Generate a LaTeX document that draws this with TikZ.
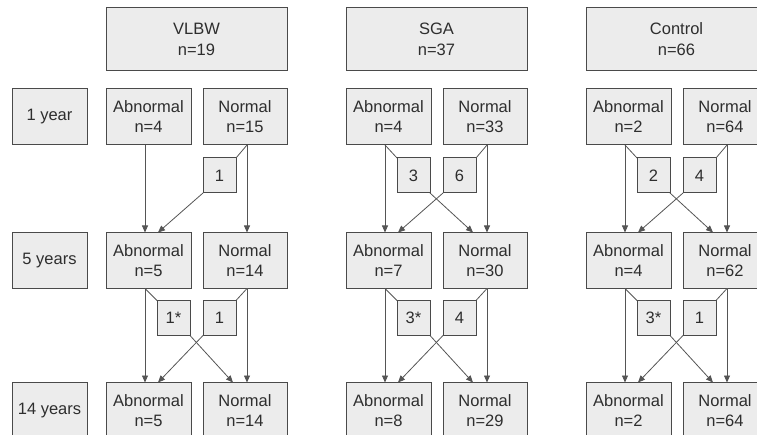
\documentclass[tikz,border=0pt]{standalone}
\usepackage{fontspec}
\setmainfont{Liberation Sans}
\usetikzlibrary{arrows.meta}
\definecolor{boxfill}{HTML}{ECECEC}
\definecolor{boxline}{HTML}{4A4A4A}
\definecolor{flowline}{HTML}{555555}
\definecolor{ink}{HTML}{2E2E2E}
\tikzset{
  cell/.style={draw=boxline, fill=boxfill, line width=1pt, inner sep=0pt, outer sep=0pt,
    align=center, text=ink, font=\fontsize{16.5}{20}\selectfont},
  header/.style={cell, minimum width=181pt, minimum height=63pt, font=\fontsize{16.5}{21}\selectfont},
  agebox/.style={cell, minimum width=75pt, minimum height=56pt},
  abn/.style={cell, minimum width=85pt, minimum height=56pt},
  nrm/.style={cell, minimum width=84pt, minimum height=56pt},
  tally/.style={cell, minimum width=33pt, minimum height=35pt},
  link/.style={draw=flowline, line width=0.8pt},
  flow/.style={link, -{Triangle[length=7pt,width=6pt]}},
}
\begin{document}
\begin{tikzpicture}[x=1pt,y=-1pt]
\useasboundingbox (0,0) rectangle (757,435);
\fill[white] (0,0) rectangle (757,435);
\clip (0,0) rectangle (757,435);

% follow-up ages
\node[agebox] (age1) at (49.5,117) {1 year};
\node[agebox] (age5) at (49.5,260.5) {5 years};
\node[agebox] (age14) at (49.5,410.5) {14 years};

% ---------------- VLBW ----------------
\node[header] (v-h) at (196.5,39.5) {VLBW\\n=19};
\node[abn] (v-a1) at (148.5,117) {Abnormal\\n=4};
\node[nrm] (v-n1) at (245,117) {Normal\\n=15};
\node[tally] (v-r1) at (219.5,175.5) {1};
\node[abn] (v-a2) at (148.5,260.5) {Abnormal\\n=5};
\node[nrm] (v-n2) at (245,260.5) {Normal\\n=14};
\node[tally] (v-l2) at (173.5,318) {1*};
\node[tally] (v-r2) at (219.5,318) {1};
\node[abn] (v-a3) at (148.5,410.5) {Abnormal\\n=5};
\node[nrm] (v-n3) at (245,410.5) {Normal\\n=14};

\draw[flow] ([xshift=-3.5pt]v-a1.south) -- ([xshift=-3.5pt]v-a2.north);
\draw[flow] ([xshift=2pt]v-n1.south) -- ([xshift=2pt]v-n2.north);
\draw[link] ([xshift=2pt]v-n1.south) -- (v-r1.north east);
\draw[flow] (v-r1.south west) -- ([xshift=9.5pt]v-a2.north);

\draw[flow] ([xshift=-3.5pt]v-a2.south) -- ([xshift=-3.5pt]v-a3.north);
\draw[flow] ([xshift=2pt]v-n2.south) -- ([xshift=2pt]v-n3.north);
\draw[link] ([xshift=-3.5pt]v-a2.south) -- (v-l2.north west);
\draw[flow] (v-l2.south east) -- ([xshift=-12pt]v-n3.north);
\draw[link] ([xshift=2pt]v-n2.south) -- (v-r2.north east);
\draw[flow] (v-r2.south west) -- ([xshift=9.5pt]v-a3.north);

% ---------------- SGA ----------------
\begin{scope}[xshift=240pt]
\node[header] (s-h) at (196.5,39.5) {SGA\\n=37};
\node[abn] (s-a1) at (148.5,117) {Abnormal\\n=4};
\node[nrm] (s-n1) at (245,117) {Normal\\n=33};
\node[tally] (s-l1) at (173.5,175.5) {3};
\node[tally] (s-r1) at (219.5,175.5) {6};
\node[abn] (s-a2) at (148.5,260.5) {Abnormal\\n=7};
\node[nrm] (s-n2) at (245,260.5) {Normal\\n=30};
\node[tally] (s-l2) at (173.5,318) {3*};
\node[tally] (s-r2) at (219.5,318) {4};
\node[abn] (s-a3) at (148.5,410.5) {Abnormal\\n=8};
\node[nrm] (s-n3) at (245,410.5) {Normal\\n=29};
\end{scope}

\draw[flow] ([xshift=-3.5pt]s-a1.south) -- ([xshift=-3.5pt]s-a2.north);
\draw[flow] ([xshift=2pt]s-n1.south) -- ([xshift=2pt]s-n2.north);
\draw[link] ([xshift=-3.5pt]s-a1.south) -- (s-l1.north west);
\draw[flow] (s-l1.south east) -- ([xshift=-12pt]s-n2.north);
\draw[link] ([xshift=2pt]s-n1.south) -- (s-r1.north east);
\draw[flow] (s-r1.south west) -- ([xshift=9.5pt]s-a2.north);

\draw[flow] ([xshift=-3.5pt]s-a2.south) -- ([xshift=-3.5pt]s-a3.north);
\draw[flow] ([xshift=2pt]s-n2.south) -- ([xshift=2pt]s-n3.north);
\draw[link] ([xshift=-3.5pt]s-a2.south) -- (s-l2.north west);
\draw[flow] (s-l2.south east) -- ([xshift=-12pt]s-n3.north);
\draw[link] ([xshift=2pt]s-n2.south) -- (s-r2.north east);
\draw[flow] (s-r2.south west) -- ([xshift=9.5pt]s-a3.north);

% ---------------- Control ----------------
\begin{scope}[xshift=480pt]
\node[header] (c-h) at (196.5,39.5) {Control\\n=66};
\node[abn] (c-a1) at (148.5,117) {Abnormal\\n=2};
\node[nrm] (c-n1) at (245,117) {Normal\\n=64};
\node[tally] (c-l1) at (173.5,175.5) {2};
\node[tally] (c-r1) at (219.5,175.5) {4};
\node[abn] (c-a2) at (148.5,260.5) {Abnormal\\n=4};
\node[nrm] (c-n2) at (245,260.5) {Normal\\n=62};
\node[tally] (c-l2) at (173.5,318) {3*};
\node[tally] (c-r2) at (219.5,318) {1};
\node[abn] (c-a3) at (148.5,410.5) {Abnormal\\n=2};
\node[nrm] (c-n3) at (245,410.5) {Normal\\n=64};
\end{scope}

\draw[flow] ([xshift=-3.5pt]c-a1.south) -- ([xshift=-3.5pt]c-a2.north);
\draw[flow] ([xshift=2pt]c-n1.south) -- ([xshift=2pt]c-n2.north);
\draw[link] ([xshift=-3.5pt]c-a1.south) -- (c-l1.north west);
\draw[flow] (c-l1.south east) -- ([xshift=-12pt]c-n2.north);
\draw[link] ([xshift=2pt]c-n1.south) -- (c-r1.north east);
\draw[flow] (c-r1.south west) -- ([xshift=9.5pt]c-a2.north);

\draw[flow] ([xshift=-3.5pt]c-a2.south) -- ([xshift=-3.5pt]c-a3.north);
\draw[flow] ([xshift=2pt]c-n2.south) -- ([xshift=2pt]c-n3.north);
\draw[link] ([xshift=-3.5pt]c-a2.south) -- (c-l2.north west);
\draw[flow] (c-l2.south east) -- ([xshift=-12pt]c-n3.north);
\draw[link] ([xshift=2pt]c-n2.south) -- (c-r2.north east);
\draw[flow] (c-r2.south west) -- ([xshift=9.5pt]c-a3.north);
\end{tikzpicture}
\end{document}
